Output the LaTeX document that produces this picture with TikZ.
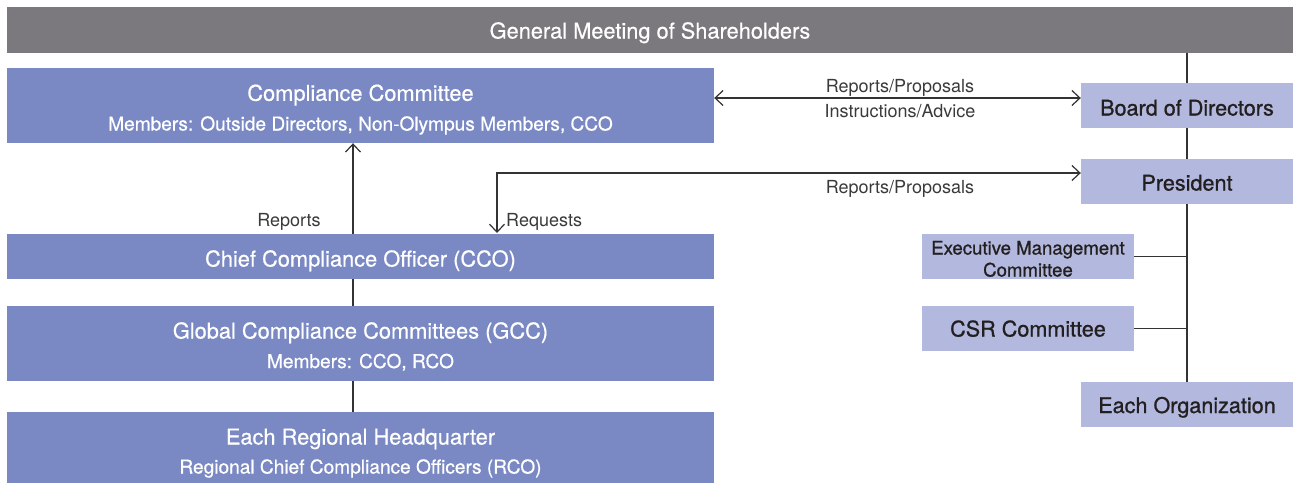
\documentclass[tikz,border=0pt]{standalone}
\usepackage{fontspec}
\setmainfont{TeX Gyre Heros}
\usetikzlibrary{arrows.meta}
\definecolor{barGray}{HTML}{7B797D}
\definecolor{boxBlue}{HTML}{7A89C3}
\definecolor{boxLight}{HTML}{B3B9DE}
\definecolor{lineDark}{HTML}{333333}
\definecolor{txtDark}{HTML}{231F20}
\definecolor{lblGray}{HTML}{3A3A3A}
\newcommand{\fsTitle}{\fontsize{21.8}{24}\selectfont\addfontfeature{FakeBold=0.5}}
\newcommand{\fsSub}{\fontsize{19.1}{21}\selectfont\addfontfeature{FakeBold=0.5}}
\newcommand{\fsDark}{\fontsize{21.6}{24}\selectfont\addfontfeature{FakeBold=0.9}}
\newcommand{\fsLbl}{\fontsize{18}{20}\selectfont}
\begin{document}
\begin{tikzpicture}[x=1pt,y=-1pt,
  bluebox/.style={fill=boxBlue, draw=none, inner sep=0pt, minimum width=707pt},
  lightbox/.style={fill=boxLight, draw=none, inner sep=0pt, minimum width=212pt, minimum height=45pt},
  whitetxt/.style={text=white, inner sep=0pt, anchor=base},
  darktxt/.style={text=txtDark, inner sep=0pt, anchor=base, font=\fsDark},
  lbltxt/.style={text=lblGray, inner sep=0pt, anchor=base, font=\fsLbl},
  conn/.style={draw=lineDark, line width=1.3pt},
  tip/.tip={Straight Barb[length=8pt,width=15pt,line width=1.2pt]}
]
\useasboundingbox (0,0) rectangle (1293,483);

% top bar
\node[fill=barGray, inner sep=0pt, minimum width=1286pt, minimum height=46pt] (top) at (650,30) {};
\node[whitetxt, font=\fsTitle] (topT) at (650,38.5) {General Meeting of Shareholders};

% left column boxes
\node[bluebox, minimum height=75pt] (cc) at (360.5,105.5) {};
\node[bluebox, minimum height=45pt] (cco) at (360.5,256.5) {};
\node[bluebox, minimum height=75pt] (gcc) at (360.5,343.5) {};
\node[bluebox, minimum height=71pt] (rhq) at (360.5,447.5) {};

\node[whitetxt, font=\fsTitle] (ccT) at (360.5,100.8) {Compliance Committee};
\node[whitetxt, font=\fsSub] (ccS) at (360.5,130.5) {Members: Outside Directors, Non-Olympus Members, CCO};
\node[whitetxt, font=\fsTitle] (ccoT) at (360.5,266.5) {Chief Compliance Officer (CCO)};
\node[whitetxt, font=\fsTitle] (gccT) at (360.5,338.5) {Global Compliance Committees (GCC)};
\node[whitetxt, font=\fsSub] (gccS) at (360.5,368) {Members: CCO, RCO};
\node[whitetxt, font=\fsTitle] (rhqT) at (360.5,444.5) {Each Regional Headquarter};
\node[whitetxt, font=\fsSub] (rhqS) at (360.5,473.5) {Regional Chief Compliance Officers (RCO)};

% right column boxes
\node[lightbox] (board) at (1187,105.5) {};
\node[lightbox] (pres) at (1187,181.5) {};
\node[lightbox] (emc) at (1028,256.5) {};
\node[lightbox] (csr) at (1028,328.5) {};
\node[lightbox] (org) at (1187,404.5) {};

\node[darktxt] (boardT) at (1187,115.5) {Board of Directors};
\node[darktxt] (presT) at (1187,190.5) {President};
\node[darktxt, font=\fontsize{18.6}{20}\selectfont\addfontfeature{FakeBold=0.9}] (emcT1) at (1028,254.5) {Executive Management};
\node[darktxt, font=\fontsize{18.6}{20}\selectfont\addfontfeature{FakeBold=0.9}] (emcT2) at (1028,276.5) {Committee};
\node[darktxt] (csrT) at (1028,336.5) {CSR Committee};
\node[darktxt] (orgT) at (1187,413) {Each Organization};

% right tree lines
\draw[conn] (board.north |- top.south) -- (board.north);
\draw[conn] (board.south) -- (pres.north);
\draw[conn] (pres.south) -- (org.north);
\draw[conn] (emc.east) -- (emc.east -| org.north);
\draw[conn] (csr.east) -- (csr.east -| org.north);

% left vertical links
\draw[conn] ([xshift=-7.5pt]cco.south) -- ([xshift=-7.5pt]gcc.north);
\draw[conn] ([xshift=-7.5pt]gcc.south) -- ([xshift=-7.5pt]rhq.north);
\draw[conn, -tip] ([xshift=-7.5pt]cco.north) -- ([xshift=-7.5pt]cc.south);

% CC <-> Board
\draw[conn, tip-tip] ([yshift=7.5pt]cc.east) -- ([yshift=7.5pt]cc.east -| board.west);
\node[lbltxt] (lbl1) at (900,92.5) {Reports/Proposals};
\node[lbltxt] (lbl2) at (900,117.5) {Instructions/Advice};

% President <-> CCO
\coordinate (reqEnd) at (497,233);
\draw[conn, tip-tip] (reqEnd) |- ([yshift=8.5pt]pres.west);
\node[lbltxt] (lbl3) at (900,193.5) {Reports/Proposals};
\node[lbltxt] (lbl4) at (289,226.5) {Reports};
\node[lbltxt, anchor=base west] (lbl5) at (506,226.5) {Requests};
\end{tikzpicture}
\end{document}
